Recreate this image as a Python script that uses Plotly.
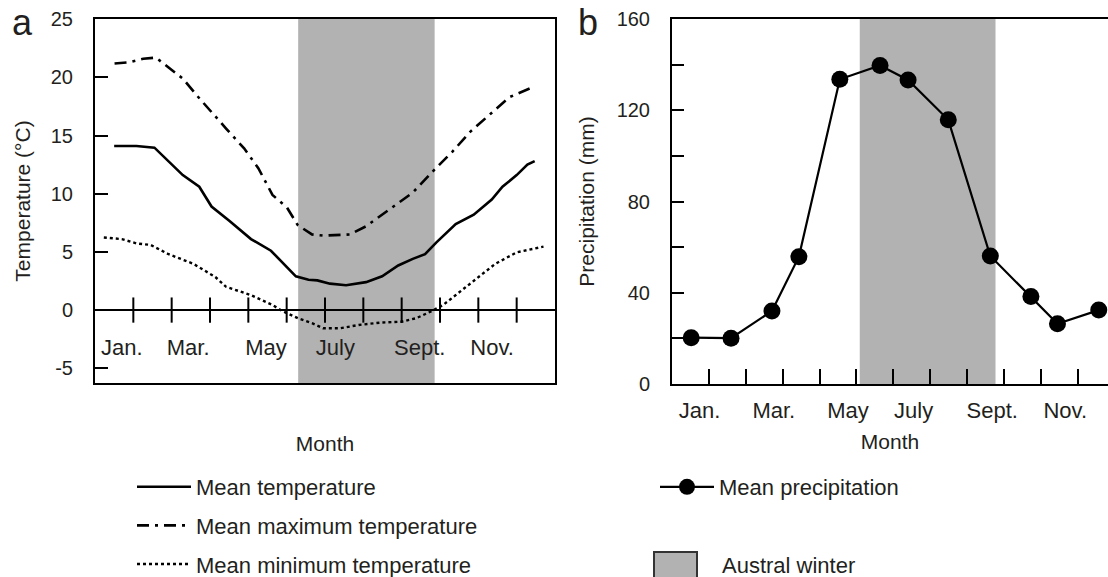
import plotly.graph_objects as go

# ---------------- data ----------------
# x positions are in months: 0 = start of January, 12 = end of December
month_labels = ["Jan.", "Mar.", "May", "July", "Sept.", "Nov."]
month_boundaries = [1, 2, 3, 4, 5, 6, 7, 8, 9, 10, 11]

# panel a - temperature (°C)
mean_temp_x = [0.50, 1.08, 1.55, 1.92, 2.29, 2.72, 3.04, 3.51, 4.07, 4.59, 4.92, 5.24, 5.57,
               5.80, 6.13, 6.55, 7.07, 7.49, 7.91, 8.29, 8.61, 8.90, 9.41, 9.88, 10.35,
               10.63, 11.00, 11.28, 11.47]
mean_temp = [14.1, 14.1, 13.96, 12.8, 11.6, 10.6, 8.9, 7.66, 6.1, 5.1, 4.0, 2.9, 2.6,
             2.55, 2.27, 2.13, 2.4, 2.9, 3.83, 4.4, 4.8, 5.8, 7.4, 8.2, 9.5,
             10.6, 11.6, 12.5, 12.8]

max_temp_x = [0.51, 0.89, 1.26, 1.59, 1.92, 2.29, 2.67, 3.04, 3.42, 3.89, 4.26, 4.63, 5.01,
              5.29, 5.66, 5.95, 6.65, 7.07, 7.63, 8.29, 8.85, 9.32, 9.78, 10.35, 10.81, 11.38]
max_temp = [21.2, 21.3, 21.6, 21.7, 20.85, 19.9, 18.4, 17.0, 15.6, 13.9, 12.2, 9.9, 8.8,
            7.3, 6.5, 6.4, 6.5, 7.2, 8.5, 10.1, 12.05, 13.6, 15.3, 17.0, 18.3, 19.1]

min_temp_x = [0.23, 0.70, 1.08, 1.45, 1.92, 2.57, 3.14, 3.42, 4.07, 4.63, 4.92, 5.29, 5.66,
              5.95, 6.41, 6.88, 7.44, 8.00, 8.38, 8.75, 9.08, 9.46, 9.97, 10.44, 11.00, 11.70]
min_temp = [6.24, 6.1, 5.73, 5.6, 4.8, 3.97, 2.84, 2.0, 1.28, 0.43, -0.14, -0.7, -1.13,
            -1.56, -1.56, -1.28, -1.08, -1.0, -0.7, -0.14, 0.43, 1.42, 2.7, 3.97, 4.96, 5.45]

# panel b - monthly mean precipitation (mm)
precip_x = [0.52, 1.60, 2.71, 3.44, 4.55, 5.64, 6.40, 7.49, 8.63, 9.73, 10.45, 11.57]
precip = [20.3, 20.1, 32.0, 55.8, 133.6, 139.6, 133.3, 115.8, 56.1, 38.4, 26.4, 32.4]

# austral winter span (months) as drawn in each panel
winter_a = [5.30, 8.86]
winter_b = [5.09, 8.77]

temp_ticks = [-5, 0, 5, 10, 15, 20, 25]
temp_tick_labels = ["-5", "0", "5", "10", "15", "20", "25"]
precip_ticks = [0, 40, 80, 120, 160]
precip_minor_ticks = [20, 60, 100, 140]

# ---------------- layout constants ----------------
FONT = "Liberation Sans, Arial, Helvetica, sans-serif"
TXT = "#231f20"
SHADE = "#b2b2b2"
W, H = 1108, 577

label_pos_a = [0.70, 2.43, 4.46, 6.27, 8.47, 10.36]
label_pos_b = [0.75, 2.76, 4.77, 6.55, 8.68, 10.66]
label_y_a = -3.4

fig = go.Figure()

# winter shading
fig.add_shape(type="rect", xref="x", yref="y domain", x0=winter_a[0], x1=winter_a[1],
              y0=0, y1=1, fillcolor=SHADE, line_width=0, layer="below")
fig.add_shape(type="rect", xref="x2", yref="y2 domain", x0=winter_b[0], x1=winter_b[1],
              y0=0, y1=1, fillcolor=SHADE, line_width=0, layer="below")

# panel a traces
fig.add_trace(go.Scatter(x=mean_temp_x, y=mean_temp, mode="lines", name="Mean temperature",
                         line=dict(color="black", width=2.6), legend="legend",
                         legendgroup="g1", xaxis="x", yaxis="y"))
fig.add_trace(go.Scatter(x=max_temp_x, y=max_temp, mode="lines", name="Mean maximum temperature",
                         line=dict(color="black", width=2.6, dash="12px,6px,3px,6px"),
                         legend="legend", legendgroup="g2", xaxis="x", yaxis="y"))
fig.add_trace(go.Scatter(x=min_temp_x, y=min_temp, mode="lines", name="Mean minimum temperature",
                         line=dict(color="black", width=2.4, dash="dot"),
                         legend="legend", legendgroup="g3", xaxis="x", yaxis="y"))

# month tick marks crossing the zero line
fig.add_trace(go.Scatter(x=month_boundaries, y=[0] * len(month_boundaries), mode="markers",
                         marker=dict(symbol="line-ns", size=18, line=dict(color="black", width=2)),
                         showlegend=False, hoverinfo="skip", xaxis="x", yaxis="y"))
# month labels inside panel a
fig.add_trace(go.Scatter(x=label_pos_a, y=[label_y_a] * len(label_pos_a), mode="text",
                         text=month_labels, textfont=dict(family=FONT, size=22, color=TXT),
                         showlegend=False, hoverinfo="skip", xaxis="x", yaxis="y"))

# panel b trace
fig.add_trace(go.Scatter(x=precip_x, y=precip, mode="lines+markers", name="Mean precipitation",
                         line=dict(color="black", width=2.2),
                         marker=dict(color="black", size=17),
                         legend="legend2", xaxis="x2", yaxis="y2"))

axis_common = dict(showline=True, linecolor="black", linewidth=2, showgrid=False,
                   tickfont=dict(family=FONT, size=20, color=TXT),
                   title_font=dict(family=FONT, size=21, color=TXT))

fig.update_layout(
    width=W, height=H,
    margin=dict(l=0, r=0, t=0, b=0, autoexpand=False),
    paper_bgcolor="white", plot_bgcolor="rgba(0,0,0,0)",
    font=dict(family=FONT, size=20, color=TXT),
    xaxis=dict(domain=[95 / W, 555 / W], range=[0, 12], mirror=True, zeroline=False,
               showticklabels=False, ticks="", anchor="y",
               title=dict(text="Month", standoff=52), **axis_common),
    yaxis=dict(domain=[1 - 383 / H, 1 - 19 / H], range=[-6.27, 25.02], mirror=True,
               tickvals=temp_ticks, ticktext=temp_tick_labels,
               ticks="inside", ticklen=13, tickwidth=2, tickcolor="black",
               zeroline=True, zerolinecolor="black", zerolinewidth=2,
               ticklabelstandoff=16, anchor="x",
               title=dict(text="Temperature (°C)", standoff=14), **axis_common),
    xaxis2=dict(domain=[672 / W, 1.0], range=[0, 11.82], mirror=True, zeroline=False,
                tickvals=label_pos_b, ticktext=month_labels, ticks="",
                tickfont=dict(family=FONT, size=22, color=TXT),
                minor=dict(tickvals=month_boundaries, ticks="inside", ticklen=15,
                           tickwidth=2, tickcolor="black"),
                ticklabelstandoff=6, anchor="y2",
                title=dict(text="Month", standoff=12),
                **{k: v for k, v in axis_common.items() if k != "tickfont"}),
    yaxis2=dict(domain=[1 - 384 / H, 1 - 19 / H], range=[0, 160], mirror=False, zeroline=False,
                tickvals=precip_ticks, ticks="inside", ticklen=12, tickwidth=2, tickcolor="black",
                minor=dict(tickvals=precip_minor_ticks, ticks="inside", ticklen=12,
                           tickwidth=2, tickcolor="black"),
                ticklabelstandoff=16, anchor="x2",
                title=dict(text="Precipitation (mm)", standoff=16), **axis_common),
    legend=dict(x=132 / W, y=1 - 466 / H, xanchor="left", yanchor="top",
                font=dict(family=FONT, size=22, color=TXT), itemwidth=54,
                tracegroupgap=7, bgcolor="rgba(0,0,0,0)"),
    legend2=dict(x=655 / W, y=1 - 466 / H, xanchor="left", yanchor="top",
                 font=dict(family=FONT, size=22, color=TXT), itemwidth=54,
                 bgcolor="rgba(0,0,0,0)"),
    annotations=[
        dict(text="a", x=22 / W, y=1 - 22 / H, xref="paper", yref="paper", showarrow=False,
             font=dict(family=FONT, size=36, color=TXT), xanchor="center", yanchor="middle"),
        dict(text="b", x=588 / W, y=1 - 23 / H, xref="paper", yref="paper", showarrow=False,
             font=dict(family=FONT, size=36, color=TXT), xanchor="center", yanchor="middle"),
        dict(text="Austral winter", x=720 / W, y=1 - 565 / H, xref="paper", yref="paper",
             showarrow=False, font=dict(family=FONT, size=22, color=TXT),
             xanchor="left", yanchor="middle"),
    ],
    shapes=list(fig.layout.shapes) + [
        dict(type="rect", xref="paper", yref="paper", x0=654 / W, x1=697 / W,
             y0=1 - 597 / H, y1=1 - 552 / H, fillcolor=SHADE,
             line=dict(color="#333333", width=2)),
    ],
)

fig.write_html("out.html")
